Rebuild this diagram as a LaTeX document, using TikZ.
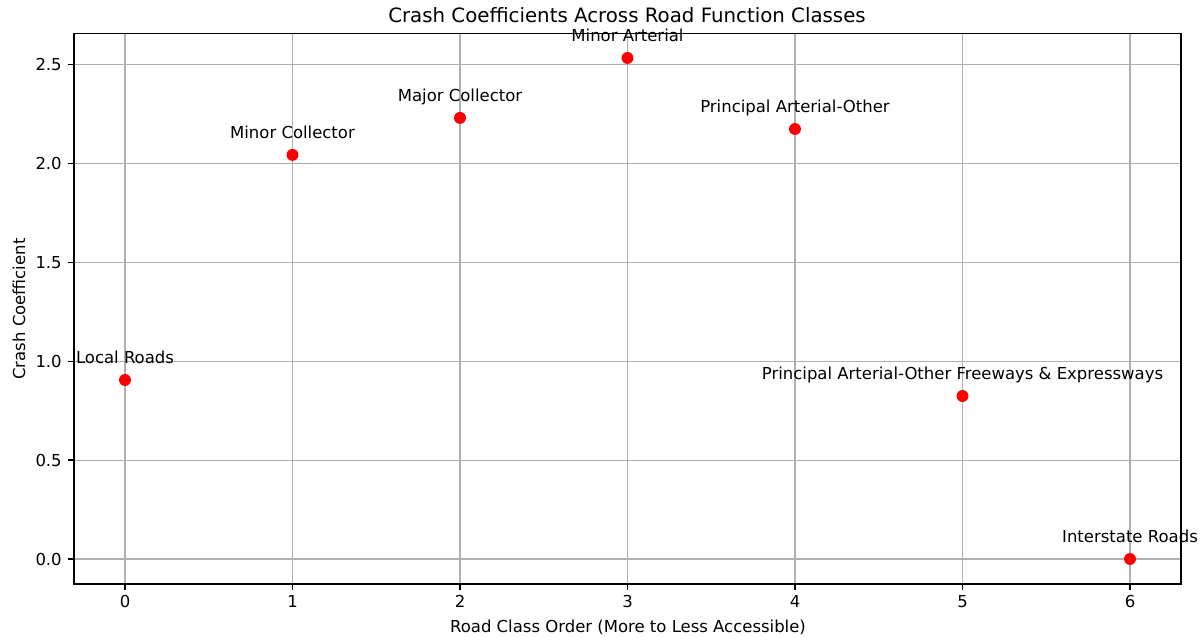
\documentclass[tikz,border=0pt]{standalone}
\usepackage{fontspec}
\setmainfont{DejaVu Sans}
\definecolor{gridc}{HTML}{B0B0B0}
\begin{document}
\begin{tikzpicture}[x=0.72pt,y=-0.72pt,
  gridline/.style={draw=gridc,line width=0.75pt},
  spine/.style={draw=black,line width=0.9pt},
  tickmark/.style={draw=black,line width=0.9pt},
  ticklbl/.style={font=\fontsize{11.87}{14}\selectfont,inner sep=0pt,text=black},
  dot/.style={circle,fill=red,inner sep=0pt,minimum size=8.6pt},
  annot/.style={font=\fontsize{11.87}{14}\selectfont,inner sep=0pt,anchor=base,text=black},
]
\useasboundingbox (0,0) rectangle (1202,638);
\fill[white] (0,0) rectangle (1202,638);
% grid
\foreach \i in {0,...,6} {
  \draw[gridline] ({125+167.5*\i},33.5) -- ({125+167.5*\i},584);
  \draw[tickmark] ({125+167.5*\i},584) -- ({125+167.5*\i},590);
  \node[ticklbl,anchor=base] at ({125+167.5*\i},608) {\i};
}
\foreach \v/\l in {0/0.0,0.5/0.5,1/1.0,1.5/1.5,2/2.0,2.5/2.5} {
  \draw[gridline] (74,{559-197.8*\v}) -- (1181,{559-197.8*\v});
  \draw[tickmark] (74,{559-197.8*\v}) -- (68,{559-197.8*\v});
  \node[ticklbl,anchor=base east] at (62,{559-197.8*\v+6.5}) {\l};
}
% spines
\draw[spine] (74,33.5) rectangle (1181,584);
% points
\node[dot] (p0) at ({125+167.5*0},{559-197.8*0.905}) {};
\node[dot] (p1) at ({125+167.5*1},{559-197.8*2.043}) {};
\node[dot] (p2) at ({125+167.5*2},{559-197.8*2.23}) {};
\node[dot] (p3) at ({125+167.5*3},{559-197.8*2.533}) {};
\node[dot] (p4) at ({125+167.5*4},{559-197.8*2.174}) {};
\node[dot] (p5) at ({125+167.5*5},{559-197.8*0.824}) {};
\node[dot] (p6) at ({125+167.5*6},{559-197.8*0}) {};
% labels
\node[annot] (l0) at ([yshift=16.7*0.72pt]p0.center) {Local Roads};
\node[annot] (l1) at ([yshift=16.7*0.72pt]p1.center) {Minor Collector};
\node[annot] (l2) at ([yshift=16.7*0.72pt]p2.center) {Major Collector};
\node[annot] (l3) at ([yshift=16.7*0.72pt]p3.center) {Minor Arterial};
\node[annot] (l4) at ([yshift=16.7*0.72pt]p4.center) {Principal Arterial-Other};
\node[annot] (l5) at ([yshift=16.7*0.72pt]p5.center) {Principal Arterial-Other Freeways \& Expressways};
\node[annot] (l6) at ([yshift=16.7*0.72pt]p6.center) {Interstate Roads};
% titles
\node[font=\fontsize{14.24}{17}\selectfont,inner sep=0pt,anchor=base] (title) at (627,23) {Crash Coefficients Across Road Function Classes};
\node[font=\fontsize{11.87}{14}\selectfont,inner sep=0pt,anchor=base] (xlab) at (628,632) {Road Class Order (More to Less Accessible)};
\node[font=\fontsize{11.87}{14}\selectfont,inner sep=0pt,anchor=base,rotate=90] (ylab) at (25,309) {Crash Coefficient};
\end{tikzpicture}
\end{document}
